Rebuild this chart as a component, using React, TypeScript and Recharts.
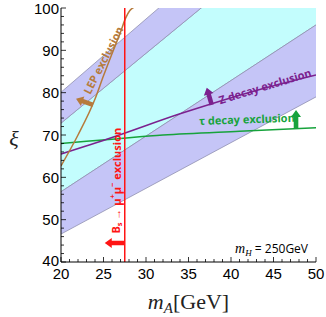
import { ComposedChart, Area, Line, XAxis, YAxis, ReferenceLine, ReferenceDot } from 'recharts';

// band edges at the two ends of the mass range
const massEdges = [20, 50];
const upperBandTop = [80.1, 132.0];
const upperBandBottom = [72.8, 122.3];
const lowerBandTop = [56.6, 96.0];
const lowerBandBottom = [46.6, 79.0];

// exclusion curves
const zMass = [20, 26, 34, 43.8, 50];
const zDecay = [65.5, 69.4, 75.0, 81.0, 84.2];
const tauMass = [20, 26, 32, 41, 50];
const tauDecay = [68.0, 69.0, 70.0, 70.9, 71.7];
const lepMass = [20, 22, 24, 25, 26, 27, 27.6, 28.1, 28.6, 29.2];
const lepXi = [62.7, 70.0, 78.5, 84.0, 89.2, 94.3, 97.6, 99.4, 100.2, 100.6];
const bsLimit = 27.5;

// ticks
const xTicks = [20, 21, 22, 23, 24, 25, 26, 27, 28, 29, 30, 31, 32, 33, 34, 35, 36, 37, 38, 39, 40, 41, 42, 43, 44, 45, 46, 47, 48, 49, 50];
const xMajor = [20, 25, 30, 35, 40, 45, 50];
const yTicks = [40, 42, 44, 46, 48, 50, 52, 54, 56, 58, 60, 62, 64, 66, 68, 70, 72, 74, 76, 78, 80, 82, 84, 86, 88, 90, 92, 94, 96, 98, 100];
const yMajor = [40, 50, 60, 70, 80, 90, 100];

const bandData = massEdges.map((m, i) => ({
  m,
  upper: [upperBandBottom[i], upperBandTop[i]],
  middle: [lowerBandTop[i], upperBandBottom[i]],
  lower: [lowerBandBottom[i], lowerBandTop[i]],
}));
const zData = zMass.map((m, i) => ({ m, v: zDecay[i] }));
const tauData = tauMass.map((m, i) => ({ m, v: tauDecay[i] }));
const lepData = lepMass.map((m, i) => ({ m, v: lepXi[i] }));

const LAVENDER = '#c5c5f7';
const CYAN = '#c3fdfd';
const EDGE = '#9090b0';
const BROWN = '#b67b3c';
const PURPLE = '#7b218e';
const GREEN = '#17a33c';
const RED = '#ff1414';
const NUM_FONT = '"Liberation Sans", Arial, sans-serif';
const ANN_FONT = '"Open Sans", sans-serif';
const SERIF = '"Liberation Serif", "Times New Roman", serif';

const BottomTick = (p: any) => {
  const v = p.payload.value;
  const major = xMajor.includes(v);
  return (
    <g>
      <line x1={p.x} x2={p.x} y1={p.y} y2={p.y - (major ? 5 : 3)} stroke="#000" strokeWidth={0.8} />
      {major && (
        <text x={p.x} y={p.y + 17} textAnchor="middle" fontSize={15} fontFamily={NUM_FONT} fill="#000">{v}</text>
      )}
    </g>
  );
};
const TopTick = (p: any) => {
  const major = xMajor.includes(p.payload.value);
  return <line x1={p.x} x2={p.x} y1={p.y} y2={p.y + (major ? 5 : 3)} stroke="#000" strokeWidth={0.8} />;
};
const LeftTick = (p: any) => {
  const v = p.payload.value;
  const major = yMajor.includes(v);
  return (
    <g>
      <line x1={p.x} x2={p.x + (major ? 5 : 3)} y1={p.y} y2={p.y} stroke="#000" strokeWidth={0.8} />
      {major && (
        <text x={p.x - 2} y={p.y + (v === 40 ? 4 : 5.5)} textAnchor="end" fontSize={15} fontFamily={NUM_FONT} fill="#000">{v}</text>
      )}
    </g>
  );
};
const RightTick = (p: any) => {
  const major = yMajor.includes(p.payload.value);
  return <line x1={p.x} x2={p.x - (major ? 5 : 3)} y1={p.y} y2={p.y} stroke="#000" strokeWidth={0.8} />;
};

const arrow = (angle: number, len: number, color: string) => (p: any) => {
  const head = 7, hw = 5, sw = 2.3;
  const d = `M0 ${-sw} L${len - head} ${-sw} L${len - head} ${-hw} L${len} 0 L${len - head} ${hw} L${len - head} ${sw} L0 ${sw} Z`;
  return <path d={d} fill={color} transform={`translate(${p.cx} ${p.cy}) rotate(${angle})`} />;
};

const label = (text: any, angle: number, color: string, size = 11) => (p: any) => (
  <text
    x={p.cx}
    y={p.cy}
    transform={`rotate(${angle} ${p.cx} ${p.cy})`}
    textAnchor="middle"
    dominantBaseline="central"
    fontFamily={ANN_FONT}
    fontWeight={700}
    fontSize={size}
    fill={color}
  >
    {text}
  </text>
);

export default function App() {
  return (
    <div style={{ position: 'absolute', left: 0, top: 0, width: 326, height: 317, background: '#fff' }}>
      <ComposedChart width={326} height={317} data={bandData} margin={{ top: 8, right: 10, left: 0, bottom: 0 }}>
        <XAxis
          dataKey="m"
          type="number"
          domain={[20, 50]}
          allowDataOverflow
          ticks={xTicks}
          interval={0}
          tickSize={0}
          tickMargin={0}
          tick={BottomTick}
          height={55}
          axisLine={{ stroke: '#000' }}
          label={{
            content: (lp: any) => {
              const vb = lp.viewBox;
              return (
                <text x={vb.x + vb.width / 2} y={vb.y + 47} textAnchor="middle" fontFamily={SERIF} fontSize={22} fill="#222">
                  <tspan fontStyle="italic">m</tspan>
                  <tspan fontStyle="italic" fontSize={15} dy={4}>A</tspan>
                  <tspan dy={-4}>[GeV]</tspan>
                </text>
              );
            },
          }}
        />
        <XAxis
          xAxisId="top"
          orientation="top"
          dataKey="m"
          type="number"
          domain={[20, 50]}
          ticks={xTicks}
          interval={0}
          tickSize={0}
          tickMargin={0}
          tick={TopTick}
          height={0}
          axisLine={{ stroke: '#000' }}
        />
        <YAxis
          type="number"
          domain={[40, 100]}
          allowDataOverflow
          ticks={yTicks}
          interval={0}
          tickSize={0}
          tickMargin={0}
          tick={LeftTick}
          width={61}
          axisLine={{ stroke: '#000' }}
          label={{
            content: (lp: any) => {
              const vb = lp.viewBox;
              return (
                <text x={vb.x + 14} y={vb.y + vb.height / 2 + 3} textAnchor="middle" dominantBaseline="central" fontFamily={SERIF} fontStyle="italic" fontSize={22} fill="#222">
                  ξ
                </text>
              );
            },
          }}
        />
        <YAxis
          yAxisId="right"
          orientation="right"
          type="number"
          domain={[40, 100]}
          ticks={yTicks}
          interval={0}
          tickSize={0}
          tickMargin={0}
          tick={RightTick}
          width={0}
          axisLine={{ stroke: '#000' }}
        />

        <Area dataKey="middle" type="linear" fill={CYAN} fillOpacity={1} stroke={EDGE} strokeWidth={0.8} isAnimationActive={false} />
        <Area dataKey="upper" type="linear" fill={LAVENDER} fillOpacity={1} stroke={EDGE} strokeWidth={0.8} isAnimationActive={false} />
        <Area dataKey="lower" type="linear" fill={LAVENDER} fillOpacity={1} stroke={EDGE} strokeWidth={0.8} isAnimationActive={false} />

        <Line data={tauData} dataKey="v" type="monotone" stroke={GREEN} strokeWidth={1.5} dot={false} isAnimationActive={false} />
        <Line data={zData} dataKey="v" type="monotone" stroke={PURPLE} strokeWidth={1.5} dot={false} isAnimationActive={false} />
        <Line data={lepData} dataKey="v" type="monotone" stroke={BROWN} strokeWidth={1.5} dot={false} isAnimationActive={false} />
        <ReferenceLine x={bsLimit} stroke={RED} strokeWidth={1.5} ifOverflow="hidden" />

        {/* annotations */}
        <ReferenceDot x={24.94} y={87.7} r={0} ifOverflow="visible" shape={label('LEP exclusion', -63, BROWN)} />
        <ReferenceDot x={23.76} y={77.1} r={0} ifOverflow="visible" shape={arrow(-160, 18, BROWN)} />
        <ReferenceDot
          x={26.47}
          y={59.2}
          r={0}
          ifOverflow="visible"
          shape={label(
            <>
              B<tspan fontSize={7.5} dy={3}>s</tspan>
              <tspan dy={-3}> → μ</tspan>
              <tspan fontSize={7.5} dy={-4}>+</tspan>
              <tspan dy={4}>μ</tspan>
              <tspan fontSize={7.5} dy={-4}>−</tspan>
              <tspan dy={4}> exclusion</tspan>
            </>,
            -90,
            RED,
            11
          )}
        />
        <ReferenceDot x={27.5} y={44.48} r={0} ifOverflow="visible" shape={arrow(180, 20, RED)} />
        <ReferenceDot x={44.0} y={81.6} r={0} ifOverflow="visible" shape={label('Z decay exclusion', -17, PURPLE)} />
        <ReferenceDot x={37.73} y={77.1} r={0} ifOverflow="visible" shape={arrow(-106, 18, PURPLE)} />
        <ReferenceDot x={41.88} y={73.8} r={0} ifOverflow="visible" shape={label('τ decay exclusion', -2, GREEN)} />
        <ReferenceDot x={47.65} y={71.65} r={0} ifOverflow="visible" shape={arrow(-90, 18, GREEN)} />
        <ReferenceDot
          x={49.06}
          y={42.1}
          r={0}
          ifOverflow="visible"
          shape={(p: any) => (
            <text x={p.cx} y={p.cy} textAnchor="end" fontSize={12} fontFamily={ANN_FONT} fill="#000">
              <tspan fontFamily={SERIF} fontStyle="italic" fontSize={14}>m</tspan>
              <tspan fontFamily={SERIF} fontStyle="italic" fontSize={9} dy={3}>H</tspan>
              <tspan dy={-3}> = 250GeV</tspan>
            </text>
          )}
        />
      </ComposedChart>
    </div>
  );
}
